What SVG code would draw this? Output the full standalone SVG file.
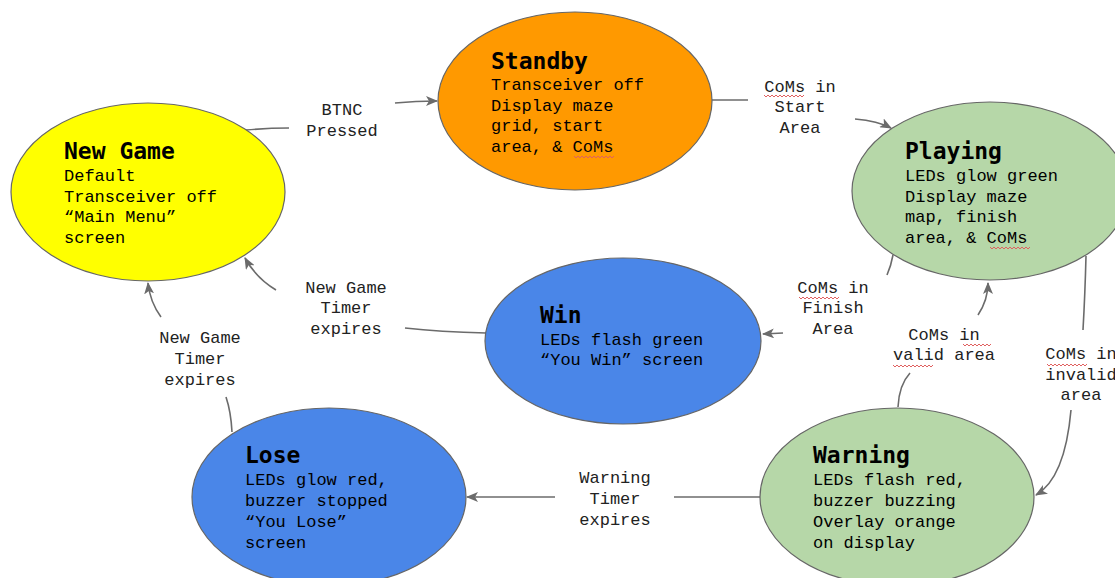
<svg xmlns="http://www.w3.org/2000/svg" width="1115" height="578" viewBox="0 0 1115 578">
<defs>
<style>
.node{stroke:#666;stroke-width:1.2}
.t{font-family:"Liberation Mono","DejaVu Sans Mono",monospace;font-size:17px;fill:#000}
.h{font-family:"DejaVu Sans Mono","Liberation Mono",monospace;font-size:23px;font-weight:bold;fill:#000}
.lbl{font-family:"Liberation Mono","DejaVu Sans Mono",monospace;font-size:17px;fill:#222;text-anchor:middle}
.c{fill:none;stroke:#6b6b6b;stroke-width:1.6}
.sq{fill:none;stroke:#e06060;stroke-width:1}
</style>
<marker id="ah" viewBox="0 0 12 10" refX="11" refY="5" markerWidth="12" markerHeight="10" markerUnits="userSpaceOnUse" orient="auto">
<path d="M0,0 L12,5 L0,10 L3,5 Z" fill="#6b6b6b"/>
</marker>
<path id="wave" d="M0,0 l2,2 l2,-2 l2,2 l2,-2 l2,2 l2,-2 l2,2 l2,-2 l2,2 l2,-2 l2,2 l2,-2 l2,2 l2,-2 l2,2 l2,-2 l2,2 l2,-2 l2,2 l2,-2"/>
<path id="wave2" d="M0,0 l2,2 l2,-2 l2,2 l2,-2 l2,2 l2,-2 l2,2 l2,-2 l2,2 l2,-2 l2,2 l2,-2 l2,2 l2,-2"/>
</defs>
<rect width="1115" height="578" fill="#fff"/>

<g id="connectors">
<path class="c" d="M246,130 Q268,128 289,128"/>
<path class="c" d="M395,103 Q416,101 437,101" marker-end="url(#ah)"/>
<path class="c" d="M712,100 L748,100"/>
<path class="c" d="M855,119 Q878,121 891,128" marker-end="url(#ah)"/>
<path class="c" d="M893,255 Q891,266 887,275"/>
<path class="c" d="M783,333 L763,334" marker-end="url(#ah)"/>
<path class="c" d="M486,333 Q440,332 405,328"/>
<path class="c" d="M276,290 Q256,278 245,258" marker-end="url(#ah)"/>
<path class="c" d="M232,432 Q231,412 226,397"/>
<path class="c" d="M161,317 Q150,302 148,283" marker-end="url(#ah)"/>
<path class="c" d="M760,497 L674,497"/>
<path class="c" d="M555,497 L467,497" marker-end="url(#ah)"/>
<path class="c" d="M898,407 Q899,385 910,373"/>
<path class="c" d="M978,315 Q988,300 988,283" marker-end="url(#ah)"/>
<path class="c" d="M1086,256 Q1085,295 1083,330"/>
<path class="c" d="M1071,410 Q1065,478 1036,495" marker-end="url(#ah)"/>
</g>

<g id="labels">
<text class="lbl" x="342" y="115">BTNC</text>
<text class="lbl" x="342" y="136">Pressed</text>
<text class="lbl" x="800" y="92">CoMs in</text>
<text class="lbl" x="800" y="112">Start</text>
<text class="lbl" x="800" y="133">Area</text>
<text class="lbl" x="833" y="293">CoMs in</text>
<text class="lbl" x="833" y="313">Finish</text>
<text class="lbl" x="833" y="334">Area</text>
<text class="lbl" x="346" y="293">New Game</text>
<text class="lbl" x="346" y="313">Timer</text>
<text class="lbl" x="346" y="334">expires</text>
<text class="lbl" x="200" y="343">New Game</text>
<text class="lbl" x="200" y="364">Timer</text>
<text class="lbl" x="200" y="385">expires</text>
<text class="lbl" x="615" y="483">Warning</text>
<text class="lbl" x="615" y="504">Timer</text>
<text class="lbl" x="615" y="525">expires</text>
<text class="lbl" x="944" y="340">CoMs in</text>
<text class="lbl" x="944" y="360">valid area</text>
<text class="lbl" x="1081" y="359">CoMs in</text>
<text class="lbl" x="1081" y="380">invalid</text>
<text class="lbl" x="1081" y="400">area</text>
<use href="#wave" class="sq" x="764" y="95"/>
<use href="#wave" class="sq" x="799" y="297"/>
<use href="#wave2" class="sq" x="963" y="344"/>
<use href="#wave" class="sq" x="893" y="365"/>
<use href="#wave" class="sq" x="1047" y="364"/>
</g>

<g id="newgame">
<ellipse class="node" cx="148" cy="192" rx="137" ry="89" fill="#ffff00"/>
<text class="h" x="64" y="159">New Game</text>
<text class="t" x="64" y="181">Default</text>
<text class="t" x="64" y="202">Transceiver off</text>
<text class="t" x="64" y="222">“Main Menu”</text>
<text class="t" x="64" y="243">screen</text>
</g>

<g id="standby">
<ellipse class="node" cx="575" cy="101" rx="137" ry="89" fill="#ff9900"/>
<text class="h" x="491" y="69">Standby</text>
<text class="t" x="491" y="90">Transceiver off</text>
<text class="t" x="491" y="111">Display maze</text>
<text class="t" x="491" y="131">grid, start</text>
<text class="t" x="491" y="152">area, &amp; CoMs</text>
<use href="#wave" class="sq" x="574" y="156"/>
</g>

<g id="playing">
<ellipse class="node" cx="990" cy="191" rx="138" ry="89" fill="#b6d7a8"/>
<text class="h" x="905" y="159">Playing</text>
<text class="t" x="905" y="181">LEDs glow green</text>
<text class="t" x="905" y="202">Display maze</text>
<text class="t" x="905" y="222">map, finish</text>
<text class="t" x="905" y="243">area, &amp; CoMs</text>
<use href="#wave" class="sq" x="990" y="247"/>
</g>

<g id="win">
<ellipse class="node" cx="623" cy="341" rx="138" ry="83" fill="#4a86e8"/>
<text class="h" x="540" y="323">Win</text>
<text class="t" x="540" y="345">LEDs flash green</text>
<text class="t" x="540" y="365">“You Win” screen</text>
</g>

<g id="lose">
<ellipse class="node" cx="329" cy="497" rx="137" ry="89" fill="#4a86e8"/>
<text class="h" x="245" y="463">Lose</text>
<text class="t" x="245" y="485">LEDs glow red,</text>
<text class="t" x="245" y="506">buzzer stopped</text>
<text class="t" x="245" y="527">“You Lose”</text>
<text class="t" x="245" y="548">screen</text>
</g>

<g id="warning">
<ellipse class="node" cx="897" cy="497" rx="137" ry="89" fill="#b6d7a8"/>
<text class="h" x="813" y="463">Warning</text>
<text class="t" x="813" y="485">LEDs flash red,</text>
<text class="t" x="813" y="506">buzzer buzzing</text>
<text class="t" x="813" y="527">Overlay orange</text>
<text class="t" x="813" y="548">on display</text>
</g>
</svg>
